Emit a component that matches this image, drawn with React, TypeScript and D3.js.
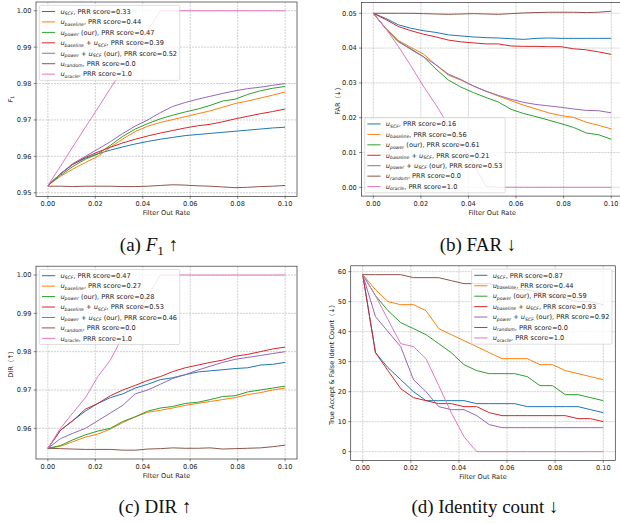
import React, { useEffect, useRef } from 'react';
import * as d3 from 'd3';

// filter out rates (20 steps from 0 to 0.1)
const RATES = [0, 0.0053, 0.0105, 0.0158, 0.0211, 0.0263, 0.0316, 0.0368, 0.0421, 0.0474,
  0.0526, 0.0579, 0.0632, 0.0684, 0.0737, 0.0789, 0.0842, 0.0895, 0.0947, 0.1];
const X_TICKS = [0, 0.02, 0.04, 0.06, 0.08, 0.1];

// (a) F1
const f1Scf = [0.952, 0.9552, 0.9578, 0.9595, 0.9607, 0.9617, 0.9626, 0.9634, 0.9641, 0.9647, 0.9652, 0.9657, 0.966, 0.9663, 0.9666, 0.9669, 0.9672, 0.9675, 0.9678, 0.968];
const f1Baseline = [0.952, 0.9545, 0.9565, 0.9583, 0.96, 0.9625, 0.9648, 0.9668, 0.9683, 0.9693, 0.9701, 0.9709, 0.9717, 0.9725, 0.9735, 0.9745, 0.9752, 0.976, 0.9768, 0.9777];
const f1Power = [0.952, 0.9548, 0.9572, 0.9592, 0.9607, 0.963, 0.9655, 0.9675, 0.969, 0.9703, 0.9713, 0.9722, 0.973, 0.974, 0.9752, 0.9757, 0.977, 0.978, 0.9787, 0.9792];
const f1BaseScf = [0.952, 0.9552, 0.9578, 0.9597, 0.9612, 0.9625, 0.9637, 0.9647, 0.9656, 0.9664, 0.9671, 0.9678, 0.9684, 0.9688, 0.9695, 0.9703, 0.971, 0.9717, 0.9723, 0.973];
const f1PowerScf = [0.952, 0.9552, 0.958, 0.96, 0.962, 0.964, 0.9663, 0.9683, 0.97, 0.972, 0.9737, 0.9748, 0.9757, 0.9765, 0.9773, 0.978, 0.9786, 0.979, 0.9795, 0.98];
const f1Random = [0.9518, 0.9518, 0.9517, 0.9518, 0.9518, 0.9518, 0.9517, 0.9517, 0.9518, 0.952, 0.9522, 0.9521, 0.9519, 0.9518, 0.9516, 0.9514, 0.9515, 0.9517, 0.9518, 0.952];
const f1Oracle = [0.952, 0.9573, 0.9626, 0.968, 0.9733, 0.9786, 0.984, 0.9893, 0.9946, 1, 1, 1, 1, 1, 1, 1, 1, 1, 1, 1];

// (b) FAR
const farScf = [0.05, 0.0485, 0.0467, 0.0457, 0.045, 0.0445, 0.0438, 0.0435, 0.0432, 0.043, 0.0429, 0.0427, 0.0425, 0.0428, 0.0429, 0.0428, 0.0428, 0.0428, 0.0428, 0.0428];
const farBaseline = [0.05, 0.0457, 0.0422, 0.0402, 0.0383, 0.0352, 0.0322, 0.0308, 0.0291, 0.0276, 0.0262, 0.0249, 0.0236, 0.0225, 0.0214, 0.0206, 0.0201, 0.0187, 0.0178, 0.0168];
const farPower = [0.05, 0.0455, 0.0418, 0.0398, 0.0375, 0.034, 0.0308, 0.0288, 0.0272, 0.0258, 0.0245, 0.0224, 0.0212, 0.0203, 0.0193, 0.0183, 0.0172, 0.0156, 0.0151, 0.0138];
const farBaseScf = [0.05, 0.0482, 0.0462, 0.045, 0.044, 0.0432, 0.0423, 0.0418, 0.0415, 0.0412, 0.0412, 0.0406, 0.0405, 0.0405, 0.0404, 0.0404, 0.0398, 0.0395, 0.0389, 0.0382];
const farPowerScf = [0.05, 0.0456, 0.042, 0.0396, 0.0375, 0.0352, 0.0325, 0.031, 0.0291, 0.0276, 0.0264, 0.0253, 0.0244, 0.0238, 0.0234, 0.023, 0.0225, 0.0221, 0.022, 0.0214];
const farRandom = [0.05, 0.05, 0.05, 0.05, 0.0499, 0.0498, 0.0497, 0.0498, 0.0499, 0.0498, 0.0497, 0.0499, 0.0501, 0.0502, 0.0503, 0.0503, 0.0503, 0.0502, 0.0503, 0.0506];
const farOracle = [0.05, 0.0456, 0.0405, 0.0349, 0.029, 0.0237, 0.0178, 0.0125, 0.0068, 0.0003, 0, 0, 0, 0, 0, 0, 0, 0, 0, 0];

// (c) DIR
const dirScf = [0.9548, 0.9595, 0.962, 0.9645, 0.9665, 0.968, 0.969, 0.9705, 0.9715, 0.9727, 0.9732, 0.974, 0.9747, 0.975, 0.9753, 0.9756, 0.9758, 0.9765, 0.9767, 0.9772];
const dirBaseline = [0.9548, 0.9553, 0.9565, 0.9577, 0.9585, 0.9598, 0.9615, 0.963, 0.9642, 0.9647, 0.9653, 0.966, 0.9665, 0.967, 0.9675, 0.968, 0.9688, 0.9693, 0.97, 0.9705];
const dirPower = [0.9548, 0.9555, 0.957, 0.9583, 0.9593, 0.96, 0.9618, 0.963, 0.9645, 0.9653, 0.9657, 0.9665, 0.9668, 0.9675, 0.9683, 0.9685, 0.9695, 0.97, 0.9705, 0.971];
const dirBaseScf = [0.9548, 0.9595, 0.962, 0.965, 0.9665, 0.9685, 0.97, 0.9712, 0.9725, 0.9735, 0.9748, 0.9758, 0.9765, 0.9772, 0.9778, 0.9788, 0.9793, 0.98, 0.9807, 0.9812];
const dirPowerScf = [0.9548, 0.9573, 0.9587, 0.96, 0.962, 0.964, 0.966, 0.969, 0.97, 0.9715, 0.973, 0.974, 0.9752, 0.9762, 0.9772, 0.978, 0.9785, 0.979, 0.9795, 0.98];
const dirRandom = [0.9548, 0.9547, 0.9546, 0.9545, 0.9545, 0.9545, 0.9543, 0.9543, 0.9546, 0.9547, 0.9549, 0.9548, 0.9548, 0.9549, 0.9546, 0.9547, 0.9548, 0.9549, 0.9552, 0.9556];
const dirOracle = [0.9548, 0.96, 0.964, 0.968, 0.9735, 0.9778, 0.984, 0.989, 0.9945, 1, 1, 1, 1, 1, 1, 1, 1, 1, 1, 1];

// (d) true accept & false ident count
const idScf = [59, 33, 28, 24, 20, 17, 17, 17, 17, 16, 16, 16, 16, 15, 15, 15, 15, 15, 14, 13];
const idBaseline = [59, 54, 50, 49, 49, 47, 41, 39, 37, 35, 33, 31, 31, 31, 29, 29, 27, 26, 25, 24];
const idPower = [59, 52, 47, 43, 41, 39, 36, 33, 29, 27, 26, 26, 26, 25, 22, 22, 19, 19, 18, 17];
const idBaseScf = [59, 33, 27, 21, 18, 17, 16, 16, 15, 15, 13, 12, 12, 12, 12, 12, 12, 11, 11, 10];
const idPowerScf = [59, 45, 40, 35, 24, 20, 15, 14, 14, 12, 9, 8, 8, 8, 8, 8, 8, 8, 8, 8];
const idRandom = [59, 59, 59, 59, 58, 58, 58, 57, 56, 56, 56, 55, 54, 54, 53, 52, 51, 50, 50, 49];
const idOracle = [59, 52, 44, 36, 35, 31, 22, 13, 5, 0, 0, 0, 0, 0, 0, 0, 0, 0, 0, 0];

const scoresA = ['0.33', '0.44', '0.47', '0.39', '0.52', '0.0', '1.0'];
const scoresB = ['0.16', '0.56', '0.61', '0.21', '0.53', '0.0', '1.0'];
const scoresC = ['0.47', '0.27', '0.28', '0.53', '0.46', '0.0', '1.0'];
const scoresD = ['0.87', '0.44', '0.59', '0.93', '0.92', '0.0', '1.0'];

const COLORS = ['#1f77b4', '#ff7f0e', '#2ca02c', '#d62728', '#9467bd', '#8c564b', '#e377c2'];
const FONT = "'DejaVu Sans', 'Noto Sans CJK SC', sans-serif";
const FS = 6.6;

type Seg = { t: string; it?: boolean; sub?: boolean };

const legendSegs = (i: number, score: string): Seg[] => {
  const tail = (s: string) => ({ t: s + 'PRR score=' + score });
  const u = { t: 'u', it: true };
  const sub = (t: string) => ({ t, it: true, sub: true });
  switch (i) {
    case 0: return [u, sub('SCF'), tail(', ')];
    case 1: return [u, sub('baseline'), tail(', ')];
    case 2: return [u, sub('power'), tail(' (our), ')];
    case 3: return [u, sub('baseline'), { t: ' + ' }, u, sub('SCF'), tail(', ')];
    case 4: return [u, sub('power'), { t: ' + ' }, u, sub('SCF'), tail(' (our), ')];
    case 5: return [u, sub('random'), tail(', ')];
    default: return [u, sub('oracle'), tail(', ')];
  }
};

const panels = [
  {
    series: [f1Scf, f1Baseline, f1Power, f1BaseScf, f1PowerScf, f1Random, f1Oracle],
    scores: scoresA, ylim: [0.949, 1.0024], rect: { l: 36, r: 297, t: 2, b: 196.4 },
    yTicks: [0.95, 0.96, 0.97, 0.98, 0.99, 1.0], fmt: '.2f', legend: 'ul',
    ylabel: [{ t: 'F', it: true }, { t: '1', sub: true }] as Seg[], ylabelX: 13,
  },
  {
    series: [farScf, farBaseline, farPower, farBaseScf, farPowerScf, farRandom, farOracle],
    scores: scoresB, ylim: [-0.00253, 0.05313], rect: { l: 361.4, r: 623.1, t: 2.4, b: 196.1 },
    yTicks: [0, 0.01, 0.02, 0.03, 0.04, 0.05], fmt: '.2f', legend: 'll',
    ylabel: [{ t: 'FAR（↓）' }] as Seg[], ylabelX: 339.5,
  },
  {
    series: [dirScf, dirBaseline, dirPower, dirBaseScf, dirPowerScf, dirRandom, dirOracle],
    scores: scoresC, ylim: [0.952, 1.0023], rect: { l: 36, r: 297, t: 266.2, b: 459 },
    yTicks: [0.96, 0.97, 0.98, 0.99, 1.0], fmt: '.2f', legend: 'ul',
    ylabel: [{ t: 'DIR（↑）' }] as Seg[], ylabelX: 13,
  },
  {
    series: [idScf, idBaseline, idPower, idBaseScf, idPowerScf, idRandom, idOracle],
    scores: scoresD, ylim: [-2.95, 61.95], rect: { l: 350.7, r: 615.3, t: 265.8, b: 460.5 },
    yTicks: [0, 10, 20, 30, 40, 50, 60], fmt: 'd', legend: 'ur',
    ylabel: [{ t: 'True Accept & False Ident Count（↓）' }] as Seg[], ylabelX: 333.5,
  },
];

const captions = [
  { x: 149, y: 251, segs: [{ t: '(a) ' }, { t: 'F', it: true }, { t: '1', sub: true }, { t: ' ↑' }] as Seg[] },
  { x: 478, y: 251, segs: [{ t: '(b) FAR ↓' }] as Seg[] },
  { x: 155, y: 513, segs: [{ t: '(c) DIR ↑' }] as Seg[] },
  { x: 485, y: 513, segs: [{ t: '(d) Identity count ↓' }] as Seg[] },
];

const addSegs = (text: any, segs: Seg[], fs: number) => {
  let shifted = false;
  segs.forEach(s => {
    const ts = text.append('tspan').text(s.t);
    if (s.it) ts.attr('font-style', 'italic');
    if (s.sub) {
      ts.attr('font-size', fs * 0.7).attr('dy', fs * 0.22);
      shifted = true;
    } else if (shifted) {
      ts.attr('dy', -fs * 0.22);
      shifted = false;
    }
  });
};

export default function App() {
  const ref = useRef<SVGSVGElement>(null);

  useEffect(() => {
    const svg = d3.select(ref.current);
    svg.selectAll('*').remove();
    const defs = svg.append('defs');

    panels.forEach((p, pi) => {
      const { l, r, t, b } = p.rect;
      const x = d3.scaleLinear().domain([-0.005, 0.105]).range([l, r]);
      const y = d3.scaleLinear().domain(p.ylim).range([b, t]);
      const g = svg.append('g').attr('font-family', FONT);

      defs.append('clipPath').attr('id', `clip${pi}`)
        .append('rect').attr('x', l).attr('y', t).attr('width', r - l).attr('height', b - t);

      // grid
      const grid = g.append('g').attr('stroke', '#b0b0b0').attr('stroke-width', 0.6).attr('stroke-dasharray', '2,1');
      grid.selectAll('.gx').data(X_TICKS).join('line')
        .attr('x1', d => x(d)).attr('x2', d => x(d)).attr('y1', t).attr('y2', b);
      grid.selectAll('.gy').data(p.yTicks).join('line')
        .attr('y1', d => y(d)).attr('y2', d => y(d)).attr('x1', l).attr('x2', r);

      // lines
      const line = d3.line<number>().x((_, i) => x(RATES[i])).y(v => y(v));
      const lg = g.append('g').attr('clip-path', `url(#clip${pi})`);
      p.series.forEach((s, si) => {
        lg.append('path').attr('d', line(s)).attr('fill', 'none')
          .attr('stroke', COLORS[si]).attr('stroke-width', 1)
          .attr('stroke-linejoin', 'round');
      });

      // spines
      g.append('rect').attr('x', l).attr('y', t).attr('width', r - l).attr('height', b - t)
        .attr('fill', 'none').attr('stroke', '#333').attr('stroke-width', 0.7);

      // ticks
      const fmt = d3.format(p.fmt);
      const tk = g.append('g').attr('stroke', '#333').attr('stroke-width', 0.6);
      tk.selectAll('.tx').data(X_TICKS).join('line')
        .attr('x1', d => x(d)).attr('x2', d => x(d)).attr('y1', b).attr('y2', b + 2.3);
      tk.selectAll('.ty').data(p.yTicks).join('line')
        .attr('y1', d => y(d)).attr('y2', d => y(d)).attr('x1', l - 2.3).attr('x2', l);

      g.append('g').selectAll('text').data(X_TICKS).join('text')
        .attr('x', d => x(d)).attr('y', b + 9.6).attr('text-anchor', 'middle')
        .attr('font-size', FS).attr('fill', '#222').text(d => d3.format('.2f')(d));
      g.append('g').selectAll('text').data(p.yTicks).join('text')
        .attr('x', l - 4.6).attr('y', d => y(d) + 2.4).attr('text-anchor', 'end')
        .attr('font-size', FS).attr('fill', '#222').text(d => fmt(d));

      // axis labels
      g.append('text').attr('x', (l + Math.min(r, 620)) / 2 + (r > 620 ? (r - 620) / 2 : 0)).attr('y', b + 18.6)
        .attr('text-anchor', 'middle').attr('font-size', FS).attr('fill', '#222').text('Filter Out Rate');
      const yl = g.append('text')
        .attr('transform', `translate(${p.ylabelX},${(t + b) / 2}) rotate(-90)`)
        .attr('text-anchor', 'middle').attr('font-size', FS).attr('fill', '#222');
      addSegs(yl, p.ylabel, FS);

      // legend
      const pad = 0.4 * FS, rowH = 7.14, gap = 0.5 * FS, handle = 2 * FS, htp = 0.8 * FS;
      const legH = 2 * pad + 7 * rowH + 6 * gap;
      const leg = g.append('g');
      const box = leg.append('rect');
      let maxW = 0;
      p.scores.forEach((sc, i) => {
        const cy = pad + rowH / 2 + i * (rowH + gap);
        leg.append('line').attr('x1', pad).attr('x2', pad + handle).attr('y1', cy).attr('y2', cy)
          .attr('stroke', COLORS[i]).attr('stroke-width', 1);
        const tx = leg.append('text').attr('x', pad + handle + htp).attr('y', cy + 2.3)
          .attr('font-size', FS).attr('fill', '#222');
        addSegs(tx, legendSegs(i, sc), FS);
        const w = (tx.node() as SVGTextElement).getComputedTextLength();
        maxW = Math.max(maxW, w);
      });
      const legW = pad + handle + htp + maxW + pad;
      box.attr('width', legW).attr('height', legH).attr('rx', 1.4)
        .attr('fill', 'white').attr('fill-opacity', 0.8)
        .attr('stroke', '#cccccc').attr('stroke-width', 0.66);
      const axPad = 0.5 * FS;
      let lx = l + axPad, ly = t + axPad;
      if (p.legend === 'll') ly = b - axPad - legH;
      if (p.legend === 'ur') lx = r - axPad - legW;
      leg.attr('transform', `translate(${lx},${ly})`);
    });

    // captions
    captions.forEach(c => {
      const tx = svg.append('text').attr('x', c.x).attr('y', c.y).attr('text-anchor', 'middle')
        .attr('font-family', "'Liberation Serif', 'DejaVu Serif', serif").attr('font-size', 19).attr('fill', '#111');
      addSegs(tx, c.segs, 19);
    });
  }, []);

  return (
    <svg ref={ref} width={620} height={523}
      style={{ position: 'absolute', left: 0, top: 0, background: '#fff' }} />
  );
}
